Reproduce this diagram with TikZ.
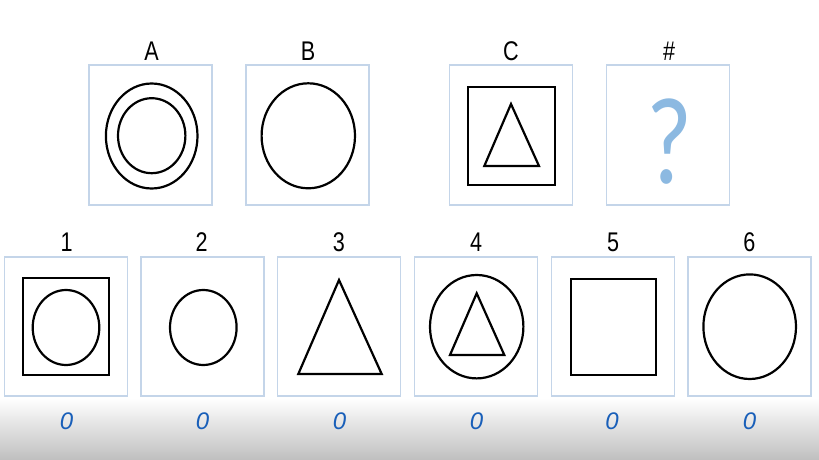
\documentclass[tikz,border=0pt]{standalone}
\usepackage{fontspec}
\setmainfont{Liberation Sans}
\newfontfamily\lblfont[FakeStretch=0.8]{Liberation Sans}
\newfontfamily\qfont[FakeStretch=0.8]{Carlito}
\definecolor{panelc}{RGB}{196,213,233}
\definecolor{qblue}{RGB}{140,185,225}
\definecolor{ansblue}{RGB}{25,95,185}
\tikzset{
  panel/.style={draw=panelc, line width=1.5pt, minimum width=123pt, minimum height=140pt, inner sep=0pt, fill=white},
  panelb/.style={panel, minimum height=139pt},
  lbl/.style={font=\lblfont\fontsize{27}{27}\selectfont, inner sep=0pt, text=black},
  ans/.style={font=\itshape\fontsize{24}{24}\selectfont, text=ansblue, inner sep=0pt},
  shp/.style={draw=black, line width=2.2pt}
}
\begin{document}
\begin{tikzpicture}[x=1pt,y=-1pt]
\useasboundingbox (0,0) rectangle (819,460);
\fill[white] (0,0) rectangle (819,460);
\shade[top color=white, bottom color=black!25] (0,398) rectangle (819,460);
% top panels
\node[panel] (pA) at (150.5,135) {};
\node[panel] (pB) at (307.5,135) {};
\node[panel] (pC) at (511,135) {};
\node[panel] (pQ) at (668,135) {};
\node[lbl] (lA) at (151.5,51) {A};
\node[lbl] (lB) at (308,51) {B};
\node[lbl] (lC) at (511,51) {C};
\node[lbl] (lQ) at (669,51) {\#};
% A
\draw[shp] (151.7,136) ellipse [x radius=45.8, y radius=52.5];
\draw[shp] (151.7,135.7) ellipse [x radius=33.7, y radius=37.5];
% B
\draw[shp] (308.3,135.8) ellipse [x radius=46.7, y radius=52.5];
% C
\draw[shp] (468.3,87.3) rectangle (555,185);
\draw[shp, line join=miter] (511,104) -- (484.3,166) -- (539,166) -- cycle;
% ?
\node[font=\qfont\fontsize{124}{124}\selectfont, text=qblue, inner sep=0pt] (qm) at (669,142) {?};
% bottom panels
\node[panelb] (p1) at (65.8,326.5) {};
\node[panelb] (p2) at (202.5,326.5) {};
\node[panelb] (p3) at (338.8,326.5) {};
\node[panelb] (p4) at (476,326.5) {};
\node[panelb] (p5) at (613,326.5) {};
\node[panelb] (p6) at (749.6,326.5) {};
\node[lbl] (l1) at (66.7,242) {1};
\node[lbl] (l2) at (201.7,242) {2};
\node[lbl] (l3) at (339,242) {3};
\node[lbl] (l4) at (476,242) {4};
\node[lbl] (l5) at (613,242) {5};
\node[lbl] (l6) at (749.3,242) {6};
% 1
\draw[shp] (23.3,278.3) rectangle (109,375);
\draw[shp] (66,327.5) ellipse [x radius=33.3, y radius=37.5];
% 2
\draw[shp] (203.3,327.5) ellipse [x radius=33.3, y radius=37.5];
% 3
\draw[shp, line join=miter] (339,280) -- (298.3,374) -- (381.7,374) -- cycle;
% 4
\draw[shp] (476.7,326.7) ellipse [x radius=46.7, y radius=51.7];
\draw[shp, line join=miter] (476.7,293.3) -- (450,355) -- (504.3,355) -- cycle;
% 5
\draw[shp] (570.7,279) rectangle (655.7,375);
% 6
\draw[shp] (749.7,326.7) ellipse [x radius=46.3, y radius=52.3];
% answers
\node[ans] (a1) at (66.5,421.5) {0};
\node[ans] (a2) at (202.5,421.5) {0};
\node[ans] (a3) at (339.5,421.5) {0};
\node[ans] (a4) at (476.5,421.5) {0};
\node[ans] (a5) at (612,421.5) {0};
\node[ans] (a6) at (749.5,421.5) {0};
\end{tikzpicture}
\end{document}
